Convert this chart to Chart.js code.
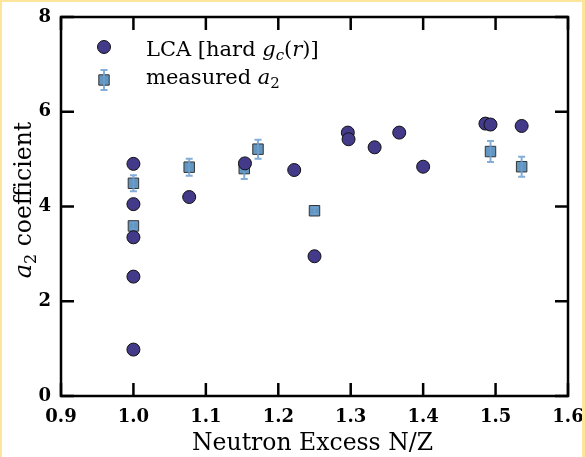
<!DOCTYPE html>
<html>
<head>
<meta charset="utf-8">
<script src="https://cdn.jsdelivr.net/npm/chart.js@4"></script>
<style>
  body { margin: 0; background: #fff; overflow: hidden; }
  #wrap {
    width: 580px;
    height: 455px;
    border-style: solid;
    border-color: #fde69c;
    border-width: 2px 3px 0 2px;
    position: relative;
  }
  canvas { display: block; }
</style>
</head>
<body>
<div id="wrap"><canvas id="myChart"></canvas></div>
<script>
// LCA calculation with hard g_c(r)
const xLCA = [1.0, 1.0, 1.0, 1.0, 1.0, 1.077, 1.154, 1.222, 1.25, 1.296, 1.297, 1.333, 1.367, 1.4, 1.486, 1.493, 1.536];
const yLCA = [4.9, 4.05, 3.35, 2.52, 0.98, 4.2, 4.91, 4.77, 2.95, 5.56, 5.42, 5.25, 5.56, 4.84, 5.75, 5.73, 5.7];

// measured a2 with error bars
const xMeas = [1.0, 1.0, 1.077, 1.153, 1.172, 1.25, 1.493, 1.536];
const yMeas = [4.49, 3.59, 4.83, 4.8, 5.21, 3.91, 5.16, 4.84];
const errMeas = [0.17, 0.07, 0.18, 0.22, 0.2, 0.07, 0.22, 0.21];

const xTicks = [0.9, 1.0, 1.1, 1.2, 1.3, 1.4, 1.5, 1.6];
const yTicks = [0, 2, 4, 6, 8];

const circleColor = "#433a8a";
const squareColor = "rgba(70, 130, 180, 0.85)";
const errColor = "rgba(110, 160, 210, 0.85)";
const serif = "'DejaVu Serif', serif";

let lcaPoints = [];
for (let i = 0; i < xLCA.length; i++) {
  lcaPoints.push({ x: xLCA[i], y: yLCA[i] });
}
let measPoints = [];
for (let i = 0; i < xMeas.length; i++) {
  measPoints.push({ x: xMeas[i], y: yMeas[i] });
}

// draw a run of text pieces with different fonts, returns end x
function drawPieces(ctx, pieces, x, y) {
  pieces.forEach((p) => {
    ctx.font = p.font;
    ctx.fillText(p.text, x, y + (p.dy || 0));
    x += ctx.measureText(p.text).width;
  });
  return x;
}

function drawErrBar(ctx, px, top, bot) {
  ctx.moveTo(px, top);
  ctx.lineTo(px, bot);
  ctx.moveTo(px - 3.5, top);
  ctx.lineTo(px + 3.5, top);
  ctx.moveTo(px - 3.5, bot);
  ctx.lineTo(px + 3.5, bot);
}

const errorBars = {
  id: "errorBars",
  afterDatasetDraw(chart, args) {
    if (args.index != 1) return;
    const ctx = chart.ctx;
    const xs = chart.scales.x;
    const ys = chart.scales.y;
    ctx.save();
    ctx.strokeStyle = errColor;
    ctx.lineWidth = 2;
    ctx.beginPath();
    for (let i = 0; i < xMeas.length; i++) {
      const px = xs.getPixelForValue(xMeas[i]);
      drawErrBar(ctx, px, ys.getPixelForValue(yMeas[i] + errMeas[i]), ys.getPixelForValue(yMeas[i] - errMeas[i]));
    }
    ctx.stroke();
    ctx.restore();
  },
};

const frame = {
  id: "frame",
  afterDraw(chart) {
    const ctx = chart.ctx;
    const a = chart.chartArea;
    const xs = chart.scales.x;
    const ys = chart.scales.y;
    const tick = 13;
    ctx.save();
    ctx.strokeStyle = "#000";
    ctx.lineWidth = 2.5;
    ctx.beginPath();
    xTicks.forEach((v) => {
      const px = xs.getPixelForValue(v);
      ctx.moveTo(px, a.bottom);
      ctx.lineTo(px, a.bottom - tick);
      ctx.moveTo(px, a.top);
      ctx.lineTo(px, a.top + tick);
    });
    yTicks.forEach((v) => {
      const py = ys.getPixelForValue(v);
      ctx.moveTo(a.left, py);
      ctx.lineTo(a.left + tick, py);
      ctx.moveTo(a.right, py);
      ctx.lineTo(a.right - tick, py);
    });
    ctx.stroke();
    ctx.strokeRect(a.left, a.top, a.right - a.left, a.bottom - a.top);

    // axis titles
    ctx.fillStyle = "#000";
    ctx.textBaseline = "alphabetic";
    ctx.font = "23.5px " + serif;
    ctx.textAlign = "center";
    ctx.fillText("Neutron Excess N/Z", (a.left + a.right) / 2 - 2, 448);

    ctx.textAlign = "left";
    ctx.save();
    ctx.translate(29, 198);
    ctx.rotate(-Math.PI / 2);
    const yTitle = [
      { text: "a", font: "italic 24px " + serif },
      { text: "2", font: "16px " + serif, dy: 5 },
      { text: " coefficient", font: "23.5px " + serif },
    ];
    let w = 0;
    yTitle.forEach((p) => {
      ctx.font = p.font;
      w += ctx.measureText(p.text).width;
    });
    drawPieces(ctx, yTitle, -w / 2, 0);
    ctx.restore();

    // legend
    const lx = a.left + 43;
    const ly1 = a.top + 30;
    const ly2 = a.top + 63;
    ctx.fillStyle = circleColor;
    ctx.strokeStyle = "#111";
    ctx.lineWidth = 1;
    ctx.beginPath();
    ctx.arc(lx, ly1, 6.5, 0, Math.PI * 2);
    ctx.fill();
    ctx.stroke();

    ctx.fillStyle = squareColor;
    ctx.strokeStyle = "#333";
    ctx.beginPath();
    ctx.rect(lx - 5.2, ly2 - 5.2, 10.4, 10.4);
    ctx.fill();
    ctx.stroke();
    ctx.strokeStyle = errColor;
    ctx.lineWidth = 2;
    ctx.beginPath();
    drawErrBar(ctx, lx, ly2 - 10, ly2 + 10);
    ctx.stroke();

    ctx.fillStyle = "#000";
    drawPieces(ctx, [
      { text: "LCA [hard ", font: "21px " + serif },
      { text: "g", font: "italic 21px " + serif },
      { text: "c", font: "italic 15px " + serif, dy: 4 },
      { text: "(", font: "21px " + serif },
      { text: "r", font: "italic 21px " + serif },
      { text: ")]", font: "21px " + serif },
    ], lx + 42, ly1 + 9);
    drawPieces(ctx, [
      { text: "measured ", font: "21px " + serif },
      { text: "a", font: "italic 21px " + serif },
      { text: "2", font: "15px " + serif, dy: 4 },
    ], lx + 42, ly2 + 4);
    ctx.restore();
  },
};

const data = {
  datasets: [
    {
      label: "LCA [hard gc(r)]",
      data: lcaPoints,
      order: 0,
      pointStyle: "circle",
      pointRadius: 6.5,
      pointHoverRadius: 6.5,
      backgroundColor: circleColor,
      borderColor: "#111",
      borderWidth: 1,
    },
    {
      label: "measured a2",
      data: measPoints,
      order: 1,
      pointStyle: "rect",
      pointRadius: 7.4,
      pointHoverRadius: 7.4,
      backgroundColor: squareColor,
      borderColor: "#333",
      borderWidth: 1,
    },
  ],
};

const config = {
  type: "scatter",
  data: data,
  plugins: [errorBars, frame],
  options: {
    responsive: true,
    maintainAspectRatio: false,
    animation: false,
    layout: {
      padding: { top: 15, right: 14, left: 0, bottom: 0 },
    },
    plugins: {
      legend: { display: false },
      tooltip: { enabled: false },
    },
    scales: {
      x: {
        type: "linear",
        min: 0.9,
        max: 1.6,
        afterBuildTicks: (scale) => {
          scale.ticks = xTicks.map((v) => ({ value: v }));
        },
        afterFit: (scale) => {
          scale.height = 61;
          scale.paddingLeft = 0;
          scale.paddingRight = 0;
        },
        grid: { display: false, drawTicks: false },
        border: { display: false },
        ticks: {
          padding: 11,
          color: "#000",
          font: { family: serif, size: 18, weight: "bold" },
          callback: (v) => Number(v).toFixed(1),
        },
      },
      y: {
        type: "linear",
        min: 0,
        max: 8,
        afterBuildTicks: (scale) => {
          scale.ticks = yTicks.map((v) => ({ value: v }));
        },
        afterFit: (scale) => {
          scale.width = 59;
          scale.paddingTop = 0;
          scale.paddingBottom = 0;
        },
        grid: { display: false, drawTicks: false },
        border: { display: false },
        ticks: {
          padding: 10,
          color: "#000",
          font: { family: serif, size: 18, weight: "bold" },
        },
      },
    },
  },
};

const myChart = new Chart(document.getElementById("myChart"), config);
</script>
</body>
</html>
